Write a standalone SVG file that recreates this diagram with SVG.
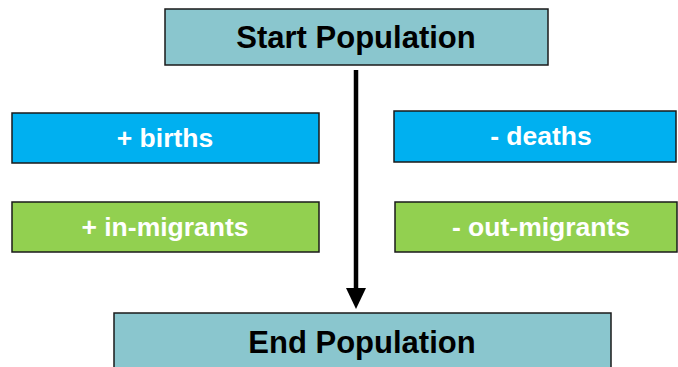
<svg xmlns="http://www.w3.org/2000/svg" width="678" height="367" viewBox="0 0 678 367">
<style>
.box{stroke:#1a1a1a;stroke-width:1.5}
.pop{fill:#8AC6CE}
.blue{fill:#00B0F0}
.green{fill:#92D050}
.t{font-family:"Liberation Sans",Arial,sans-serif;font-weight:bold;text-anchor:middle}
.big{font-size:31px;fill:#000}
.small{font-size:26.5px;fill:#fff}
</style>
<g id="connectors">
<line x1="356" y1="70" x2="356" y2="290" stroke="#000" stroke-width="4.5"/>
<path d="M346,288 L366,288 L356,309 Z" fill="#000"/>
</g>
<g id="start">
<rect class="box pop" x="165" y="9" width="383" height="56"/>
<text class="t big" x="356" y="48">Start Population</text>
</g>
<g id="births">
<rect class="box blue" x="12" y="113" width="307" height="50"/>
<text class="t small" x="165" y="147">+ births</text>
</g>
<g id="inmigrants">
<rect class="box green" x="12" y="202" width="307" height="50"/>
<text class="t small" x="165" y="236">+ in-migrants</text>
</g>
<g id="deaths">
<rect class="box blue" x="394" y="111" width="282" height="51"/>
<text class="t small" x="541" y="145">- deaths</text>
</g>
<g id="outmigrants">
<rect class="box green" x="395" y="202" width="282" height="50"/>
<text class="t small" x="541" y="236">- out-migrants</text>
</g>
<g id="end">
<rect class="box pop" x="114" y="313" width="497" height="60"/>
<text class="t big" x="362" y="353">End Population</text>
</g>
</svg>
